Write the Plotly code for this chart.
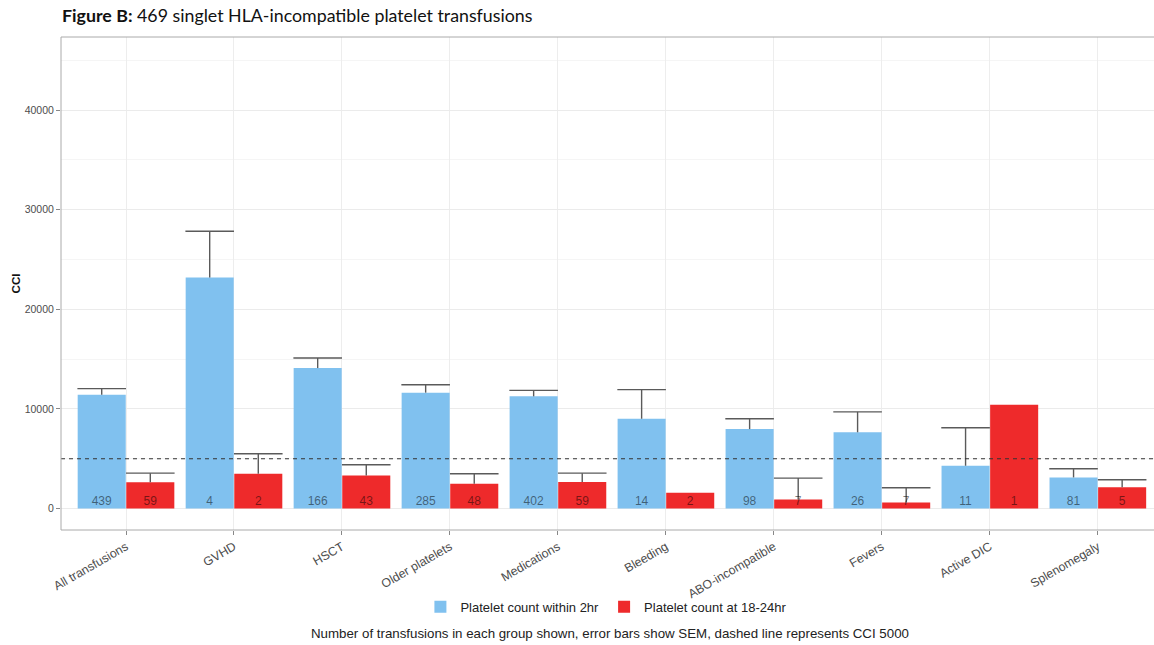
import numpy as np
import plotly.graph_objects as go

# Groups and summary statistics (mean CCI, SEM, number of transfusions)
categories = ["All transfusions", "GVHD", "HSCT", "Older platelets", "Medications",
              "Bleeding", "ABO-incompatible", "Fevers", "Active DIC", "Splenomegaly"]

cci_2hr = [11430, 23190, 14100, 11630, 11260, 9010, 7970, 7650, 4290, 3120]
sem_2hr = [600, 4650, 1010, 800, 600, 2920, 1040, 2050, 3820, 870]
n_2hr = [439, 4, 166, 285, 402, 14, 98, 26, 11, 81]

cci_24hr = [2640, 3490, 3320, 2480, 2650, 1570, 900, 600, 10420, 2140]
sem_24hr = [910, 2010, 1070, 1010, 900, None, 2150, 1480, None, 740]
n_24hr = [59, 2, 43, 48, 59, 2, 7, 7, 1, 5]

threshold = 5000
y_ticks = [0, 10000, 20000, 30000, 40000]

BLUE = "#80C1EF"
RED = "#EE2A2B"
ERR = "#5a5a5a"
FRAME = "#aaaaaa"
FONT = "Liberation Sans, Arial, sans-serif"

idx = np.arange(len(categories))
half = 0.225       # dodge offset of each bar from the group centre
bar_w = 0.445      # bar width in category units
cap = 0.225        # half width of the error-bar cap


def error_lines(centres, means, sems):
    xs, ys = [], []
    for c, m, s in zip(centres, means, sems):
        if s is None:
            continue
        top = m + s
        xs += [c, c, None, c - cap, c + cap, None]
        ys += [m, top, None, top, top, None]
    return xs, ys


fig = go.Figure()

series = [
    ("Platelet count within 2hr", cci_2hr, sem_2hr, n_2hr, BLUE, idx - half),
    ("Platelet count at 18-24hr", cci_24hr, sem_24hr, n_24hr, RED, idx + half),
]

for name, means, sems, counts, colour, centres in series:
    fig.add_trace(go.Bar(
        x=centres, y=means, width=bar_w, name=name,
        marker=dict(color=colour, line=dict(width=0)),
    ))

for name, means, sems, counts, colour, centres in series:
    ex, ey = error_lines(centres, means, sems)
    fig.add_trace(go.Scatter(
        x=ex, y=ey, mode="lines", showlegend=False, hoverinfo="skip",
        line=dict(color=ERR, width=1.4),
    ))

# Group sizes written near the foot of each bar
for name, means, sems, counts, colour, centres in series:
    fig.add_trace(go.Scatter(
        x=centres, y=[700] * len(counts), mode="text",
        text=[str(c) for c in counts], textposition="middle center",
        textfont=dict(family=FONT, size=12, color="rgba(0,0,0,0.5)"),
        showlegend=False, hoverinfo="skip",
    ))

# Reference line at CCI 5000
fig.add_shape(type="line", xref="paper", x0=0, x1=1, yref="y",
              y0=threshold, y1=threshold,
              line=dict(color="#333333", width=1.1, dash="4px,4px"))

# Panel frame: left, bottom and top edges (the right edge runs off the page)
for x0, x1, y0, y1 in [(0, 0, 0, 1), (0, 1, 0, 0), (0, 1, 1, 1)]:
    fig.add_shape(type="line", xref="paper", yref="paper",
                  x0=x0, x1=x1, y0=y0, y1=y1,
                  line=dict(color=FRAME, width=1))

fig.add_annotation(
    text="<b>Figure B:</b> 469 singlet HLA-incompatible platelet transfusions",
    xref="paper", yref="paper", x=-0.001, y=1.045,
    xanchor="left", yanchor="middle", showarrow=False,
    font=dict(family="Lato, Open Sans, sans-serif", size=17.8, color="#111111"),
)

fig.add_annotation(
    text="Number of transfusions in each group shown, error bars show SEM, "
         "dashed line represents CCI 5000",
    xref="paper", yref="paper", x=0.502, y=-0.209,
    xanchor="center", yanchor="middle", showarrow=False,
    font=dict(family=FONT, size=13.3, color="#222222"),
)

fig.update_layout(
    width=1154, height=645,
    margin=dict(l=61, r=0, t=37, b=115),
    paper_bgcolor="white", plot_bgcolor="white",
    barmode="overlay",
    font=dict(family=FONT, color="#4d4d4d"),
    legend=dict(
        orientation="h", x=0.499, xanchor="center", y=-0.156, yanchor="middle",
        font=dict(family=FONT, size=13, color="#222222"),
        bgcolor="rgba(0,0,0,0)",
        itemwidth=30, traceorder="normal",
    ),
    xaxis=dict(
        range=[-0.602, 9.52],
        tickmode="array", tickvals=idx, ticktext=categories,
        tickangle=-30, tickfont=dict(size=12.3, color="#4d4d4d"),
        ticks="outside", ticklen=4, tickcolor="#888888",
        showgrid=True, gridcolor="#ededed", gridwidth=1,
        showline=False, zeroline=False,
    ),
    yaxis=dict(
        range=[-2160, 47340],
        tickmode="array", tickvals=y_ticks,
        ticktext=[str(t) for t in y_ticks],
        ticks="outside", ticklen=4, tickcolor="#888888",
        tickfont=dict(size=10.5, color="#4d4d4d"),
        showgrid=True, gridcolor="#ebebeb", gridwidth=1,
        minor=dict(dtick=10000, tick0=5000, showgrid=True,
                   gridcolor="#f5f5f5", gridwidth=0.6),
        showline=False, zeroline=False,
        title=dict(text="<b>CCI</b>", font=dict(size=11.5, color="#111111"),
                   standoff=1),
    ),
)

fig.write_html("out.html")
